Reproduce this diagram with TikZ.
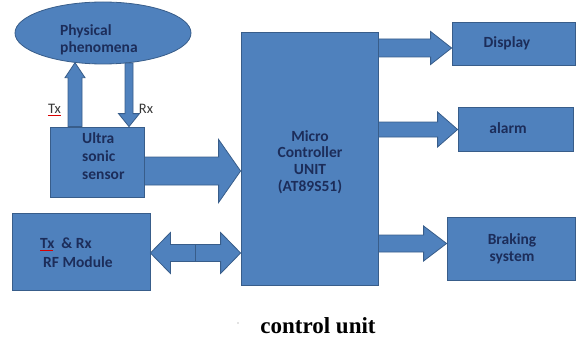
\documentclass[tikz,border=0pt]{standalone}
\usepackage{fontspec}
\setmainfont{Carlito}
\newfontfamily\capfont{Liberation Serif}
\usetikzlibrary{calc,shapes.geometric}
\definecolor{bfill}{RGB}{79,129,189}
\definecolor{bdraw}{RGB}{56,93,138}
\definecolor{btext}{RGB}{28,45,90}
\definecolor{ltext}{RGB}{55,55,55}
\newcommand\rarrow[5]{\draw[barrow] let \p1=(#1), \p2=(#2) in
  (\x1,\y1+#3pt) -- (\x2-#5pt,\y1+#3pt) -- (\x2-#5pt,\y1+#4pt) -- (\x2,\y1)
  -- (\x2-#5pt,\y1-#4pt) -- (\x2-#5pt,\y1-#3pt) -- (\x1,\y1-#3pt) -- cycle;}
\begin{document}
\begin{tikzpicture}[x=1pt,y=-1pt,
  box/.style={draw=bdraw, fill=bfill, line width=0.8pt, inner sep=0pt},
  barrow/.style={draw=bdraw, fill=bfill, line width=0.8pt, line join=miter},
  lbl/.style={text=btext, font=\bfseries\fontsize{15.5}{17}\selectfont, align=center, inner sep=0pt}]
\useasboundingbox (0,0) rectangle (576,337);

% blocks
\node[box, ellipse, minimum width=176pt, minimum height=62pt] (phen) at (103,33) {};
\node[box, minimum width=94pt, minimum height=70pt] (sensor) at (97,162) {};
\node[box, minimum width=137pt, minimum height=253pt] (mcu) at (309.5,158.5) {};
\node[box, minimum width=123pt, minimum height=43pt] (display) at (513.5,43.5) {};
\node[box, minimum width=115pt, minimum height=44pt] (alarm) at (515.5,129) {};
\node[box, minimum width=128pt, minimum height=63pt] (brake) at (511,248.5) {};
\node[box, minimum width=138pt, minimum height=77pt] (rf) at (81,251.5) {};

% texts
\node[lbl, anchor=west, align=left] (phent) at (60,39.5) {Physical\\phenomena};
\node[lbl, anchor=west, align=left, font=\bfseries\fontsize{15.5}{18}\selectfont] (sensort) at (82,156) {Ultra\\sonic\\sensor};
\node[lbl, font=\bfseries\fontsize{15.5}{16.7}\selectfont] (mcut) at (310,162) {Micro\\Controller\\UNIT\\(AT89S51)};
\node[lbl] (displayt) at (507,43) {Display};
\node[lbl] (alarmt) at (508,128) {alarm};
\node[lbl] (braket) at (512,249) {Braking\\system};
\node[lbl, anchor=west, align=left, font=\bfseries\fontsize{15.5}{19}\selectfont] (rft) at (40,253) {Tx\ \ \& Rx\\\hspace*{3pt}RF Module};
\node[lbl, text=ltext, font=\fontsize{14.5}{16}\selectfont] (txl) at (54.5,109) {Tx};
\node[lbl, text=ltext, font=\fontsize{14.5}{16}\selectfont] (rxl) at (146,109) {Rx};
\draw[red!85!black, line width=0.5pt] ([yshift=-1.5pt]txl.south west) -- ([yshift=-1.5pt]txl.south east);
\draw[red!85!black, line width=0.5pt] (40,250) -- (53,250);

% Tx (up) and Rx (down) arrows
\draw[barrow] let \p1=(sensor.north -| 75,0), \p2=(phen.226) in
  (\x1-7pt,\y1) -- (\x1-7pt,\y2-15pt) -- (\x1-10pt,\y2-15pt) -- (\x1,\y2)
  -- (\x1+10pt,\y2-15pt) -- (\x1+7pt,\y2-15pt) -- (\x1+7pt,\y1) -- cycle;
\draw[barrow] let \p1=(phen.311), \p2=(sensor.north -| 129,0) in
  (\x2-4pt,\y1) -- (\x2-4pt,\y2+13pt) -- (\x2-10.5pt,\y2+13pt) -- (\x2,\y2)
  -- (\x2+10.5pt,\y2+13pt) -- (\x2+4pt,\y2+13pt) -- (\x2+4pt,\y1) -- cycle;

% block arrows
\rarrow{sensor.east |- 0,171}{mcu.west |- 0,171}{14}{31.5}{22}
\rarrow{mcu.east |- 0,48}{display.west |- 0,48}{9}{16.5}{21}
\rarrow{mcu.east |- 0,129.5}{alarm.west |- 0,129.5}{7.5}{17.5}{20}
\rarrow{mcu.east |- 0,243.5}{brake.west |- 0,243.5}{8.5}{17.5}{23}

% double arrow RF <-> MCU
\draw[barrow] let \p1=(rf.east |- 0,253), \p2=(mcu.west |- 0,253) in
  (\x1,\y1) -- (\x1+20pt,\y1+20.5pt) -- (\x1+20pt,\y1+8.5pt) -- (\x2-20pt,\y1+8.5pt)
  -- (\x2-20pt,\y1+20.5pt) -- (\x2,\y1) -- (\x2-20pt,\y1-20.5pt) -- (\x2-20pt,\y1-8.5pt)
  -- (\x1+20pt,\y1-8.5pt) -- (\x1+20pt,\y1-20.5pt) -- cycle;
\draw[bdraw, line width=1pt] (195,244.5) -- (195,261.5);

% caption
\fill[gray!45] (238,323) circle (0.8pt);
\node[anchor=base, inner sep=0pt, font=\capfont\bfseries\fontsize{23}{25}\selectfont] (cap) at (318,333) {control unit};
\end{tikzpicture}
\end{document}
